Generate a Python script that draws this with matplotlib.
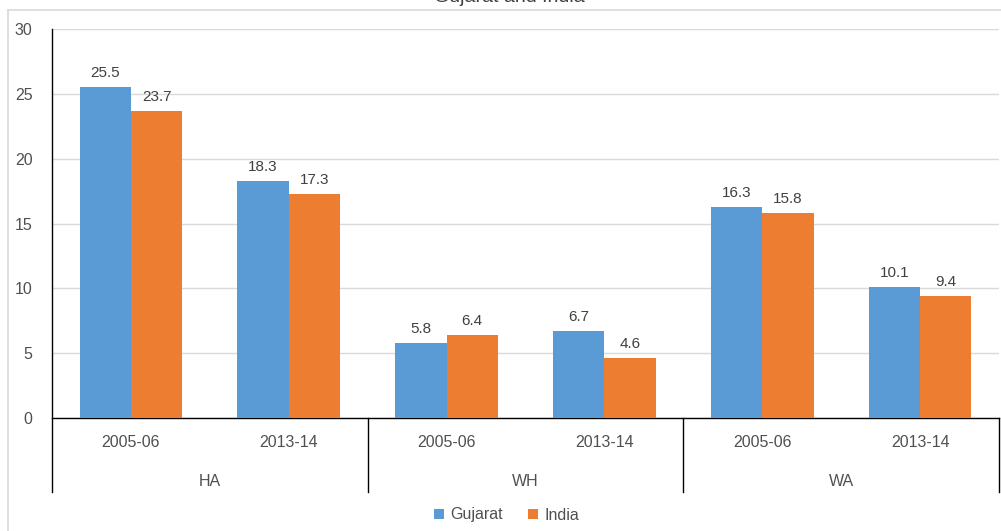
import matplotlib
matplotlib.use("Agg")
import matplotlib.pyplot as plt
import matplotlib.patches as patches
from matplotlib.lines import Line2D
import matplotlib.transforms as mtransforms

plt.rcParams['font.family'] = ['Liberation Sans', 'DejaVu Sans']

# --- Daten ---
groups = ["HA", "WH", "WA"]
years = ["2005-06", "2013-14"]
gujarat = [25.5, 18.3, 5.8, 6.7, 16.3, 10.1]
india = [23.7, 17.3, 6.4, 4.6, 15.8, 9.4]
y_ticks = [0, 5, 10, 15, 20, 25, 30]
title = "Gujarat and India"

BLUE = "#5B9BD5"
ORANGE = "#ED7D31"
GRID = "#D9D9D9"
TEXT = "#505050"
LABEL = "#404040"

fig = plt.figure(figsize=(10.01, 5.31), dpi=100)
W, H = 1001, 531
# Plotbereich in Pixeln: x 52..999, y (Wert 0) 418 .. (Wert 30) 29
ax = fig.add_axes([52 / W, (H - 418) / H, (999 - 52) / W, (418 - 29) / H])

n = len(gujarat)
xs = list(range(n))
bw = 0.325
ax.bar([x - bw / 2 for x in xs], gujarat, bw, color=BLUE, zorder=3)
ax.bar([x + bw / 2 for x in xs], india, bw, color=ORANGE, zorder=3)

# Datenbeschriftungen
for x, v in zip(xs, gujarat):
    ax.annotate(f"{v}", (x - bw / 2, v), xytext=(0, 5), textcoords="offset points",
                ha="center", va="bottom", fontsize=11, color=LABEL)
for x, v in zip(xs, india):
    ax.annotate(f"{v}", (x + bw / 2, v), xytext=(0, 5), textcoords="offset points",
                ha="center", va="bottom", fontsize=11, color=LABEL)

ax.set_xlim(-0.5, n - 0.5)
ax.set_ylim(0, 30)
ax.set_yticks(y_ticks)
ax.set_yticklabels([str(t) for t in y_ticks], fontsize=11.5, color=TEXT)
ax.yaxis.grid(True, color=GRID, linewidth=1, zorder=0)
ax.tick_params(axis="y", length=0, pad=14)

ax.set_xticks(xs)
ax.set_xticklabels(years * len(groups), fontsize=11.5, color=TEXT)
ax.tick_params(axis="x", length=0, pad=12)

for s in ["top", "right", "left"]:
    ax.spines[s].set_visible(False)
ax.spines["bottom"].set_color("black")
ax.spines["bottom"].set_linewidth(1)

# Gruppen-Trennlinien und Gruppenbeschriftung (mehrstufige Achse)
trans = mtransforms.blended_transform_factory(ax.transData, ax.transAxes)
low = -(492 - 418) / (418 - 29)
for i in range(len(groups) + 1):
    xb = i * 2 - 0.5
    top = 1.0 if i == 0 else 0.0
    ax.add_line(Line2D([xb, xb], [low, top], transform=trans, color="black",
                       linewidth=1, clip_on=False))
for i, g in enumerate(groups):
    ax.text(i * 2 + 0.5, -(482 - 418) / (418 - 29), g, transform=trans, ha="center",
            va="center", fontsize=11.5, color=TEXT)

# Legende
handles = [patches.Patch(facecolor=BLUE, label="Gujarat"),
           patches.Patch(facecolor=ORANGE, label="India")]
fig.legend(handles=handles, loc="center", bbox_to_anchor=(0.506, (H - 515) / H), ncol=2,
           frameon=False, fontsize=11.5, handlelength=0.6, handleheight=0.6,
           handletextpad=0.4, columnspacing=1.6, labelcolor=TEXT)

# Diagrammrahmen (abgeschnitten) und Titel
fig.add_artist(Line2D([8 / W, 1], [1 - 10 / H, 1 - 10 / H], transform=fig.transFigure,
                      color=GRID, linewidth=1.2))
fig.add_artist(Line2D([8 / W, 8 / W], [0, 1 - 10 / H], transform=fig.transFigure,
                      color=GRID, linewidth=1.2))
fig.text(509 / W, 1 - 2 / H, title, ha="center", va="baseline", fontsize=14, color="#404040")

fig.savefig("out.png", dpi=100)
